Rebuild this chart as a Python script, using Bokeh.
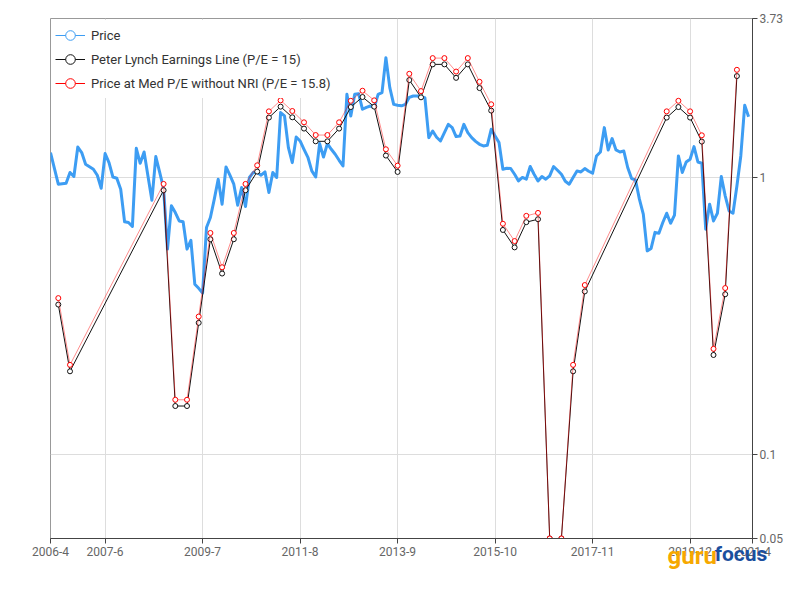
from bokeh.plotting import figure
from bokeh.models import Range1d, Legend, LegendItem, Label
from bokeh.embed import file_html
from bokeh.resources import INLINE

# ---------------- data ----------------
price_start = "2006-04"
price = [1.227, 1.077, 0.944, 0.948, 0.951, 1.040, 1.006, 1.285, 1.227, 1.114,
         1.091, 1.069, 1.017, 0.913, 1.217, 1.129, 1.002, 0.992, 0.905, 0.691,
         0.687, 0.665, 1.271, 1.123, 1.233, 1.008, 0.827, 1.187, 1.042, 0.911,
         0.551, 0.789, 0.746, 0.696, 0.691, 0.551, 0.593, 0.412, 0.398, 0.383,
         0.659, 0.716, 0.834, 0.984, 0.800, 1.089, 1.017, 0.944, 0.793, 0.918,
         0.785, 0.998, 1.042, 1.040, 1.017, 1.045, 0.881, 1.040, 0.998, 1.709,
         1.662, 1.279, 1.129, 1.396, 1.351, 1.261, 1.180, 1.054, 1.002, 1.322,
         1.183, 1.322, 1.261, 1.210, 1.151, 1.098, 1.989, 1.662, 1.989, 2.000,
         1.757, 1.786, 1.805, 1.781, 1.989, 2.017, 2.696, 2.102, 1.830, 1.816,
         1.808, 1.830, 1.940, 1.961, 1.961, 1.945, 1.935, 1.389, 1.467, 1.393,
         1.351, 1.448, 1.551, 1.509, 1.401, 1.408, 1.551, 1.448, 1.389, 1.347,
         1.314, 1.296, 1.303, 1.488, 1.408, 1.333, 1.069, 1.077, 1.075, 1.025,
         0.970, 0.998, 0.984, 1.093, 1.025, 0.970, 1.006, 0.984, 1.011, 1.093,
         1.060, 1.025, 0.967, 0.944, 0.998, 1.054, 1.045, 1.075, 1.051, 1.034,
         1.193, 1.233, 1.509, 1.254, 1.378, 1.254, 1.233, 1.243, 1.084, 0.989,
         0.978, 0.834, 0.736, 0.543, 0.554, 0.633, 0.629, 0.687, 0.742, 0.683,
         0.730, 1.193, 1.040, 1.135, 1.161, 1.289, 1.135, 1.123, 0.650, 0.800,
         0.696, 0.742, 1.006, 0.857, 0.756, 0.742, 0.930, 1.193, 1.816, 1.653]

lynch_dates = ["2006-06", "2006-09", "2008-09", "2008-12", "2009-03", "2009-06",
               "2009-09", "2009-12", "2010-03", "2010-06", "2010-09", "2010-12",
               "2011-03", "2011-06", "2011-09", "2011-12", "2012-03", "2012-06",
               "2012-09", "2012-12", "2013-03", "2013-06", "2013-09", "2013-12",
               "2014-03", "2014-06", "2014-09", "2014-12", "2015-03", "2015-06",
               "2015-09", "2015-12", "2016-03", "2016-06", "2016-09", "2016-12",
               "2017-03", "2017-06", "2017-09", "2019-06", "2019-09", "2019-12",
               "2020-03", "2020-06", "2020-09", "2020-12"]
lynch_line = [0.348, 0.200, 0.898, 0.150, 0.150, 0.299, 0.598, 0.450, 0.598, 0.898,
              1.048, 1.640, 1.796, 1.644, 1.497, 1.347, 1.347, 1.497, 1.790, 1.945,
              1.796, 1.197, 1.045, 2.239, 1.940, 2.550, 2.550, 2.280, 2.550, 2.095,
              1.738, 0.646, 0.559, 0.689, 0.706, 0.050, 0.050, 0.200, 0.388, 1.640,
              1.790, 1.640, 1.344, 0.229, 0.379, 2.314]
med_pe_price = [0.367, 0.211, 0.946, 0.158, 0.158, 0.315, 0.630, 0.474, 0.630, 0.946,
                1.104, 1.727, 1.892, 1.732, 1.577, 1.419, 1.419, 1.577, 1.885, 2.049,
                1.892, 1.261, 1.101, 2.358, 2.043, 2.686, 2.686, 2.402, 2.686, 2.207,
                1.831, 0.680, 0.589, 0.726, 0.744, 0.050, 0.050, 0.211, 0.409, 1.727,
                1.885, 1.727, 1.416, 0.241, 0.399, 2.437]

x_tick_labels = ["2006-4", "2007-6", "2009-7", "2011-8", "2013-9",
                 "2015-10", "2017-11", "2019-12", "2021-4"]
y_tick_values = [0.05, 0.1, 1, 3.73]
y_tick_labels = ["0.05", "0.1", "1", "3.73"]

legend_labels = ["Price", "Peter Lynch Earnings Line (P/E = 15)",
                 "Price at Med P/E without NRI (P/E = 15.8)"]


def month_index(s):
    y, m = s.split("-")
    y0, m0 = price_start.split("-")
    return (int(y) - int(y0)) * 12 + int(m) - int(m0)


price_x = list(range(len(price)))
lynch_x = [month_index(d) for d in lynch_dates]
x_ticks = [month_index(t) for t in x_tick_labels]

BLUE = "#3d9df3"
FONT = "Roboto"
LOGO_FONT = "'Liberation Sans Narrow', 'Roboto'"
NAN = float("nan")

p = figure(width=785, height=590, y_axis_type="log", y_axis_location="right",
           x_range=Range1d(x_ticks[0], x_ticks[-1]),
           y_range=Range1d(y_tick_values[0], y_tick_values[-1]),
           output_backend="svg", toolbar_location=None,
           min_border_left=50, min_border_right=30, min_border_top=18,
           min_border_bottom=52)

p.outline_line_color = "#999999"
p.outline_line_width = 1
p.background_fill_color = "white"
p.border_fill_color = "white"

# axes
p.xaxis.ticker = x_ticks
p.xaxis.major_label_overrides = {t: l for t, l in zip(x_ticks, x_tick_labels)}
p.yaxis.ticker = y_tick_values
p.yaxis.major_label_overrides = {t: l for t, l in zip(y_tick_values, y_tick_labels)}
for ax in (p.xaxis, p.yaxis):
    ax.axis_line_color = "#444444"
    ax.axis_line_width = 1
    ax.major_tick_line_color = "#444444"
    ax.major_tick_out = 5
    ax.major_tick_in = 0
    ax.minor_tick_line_color = None
    ax.major_label_text_color = "#666666"
    ax.major_label_text_font = FONT
    ax.major_label_text_font_size = "12px"
    ax.major_label_standoff = 3
p.yaxis.major_label_standoff = 2

p.xgrid.grid_line_color = "#dddddd"
p.ygrid.grid_line_color = "#dddddd"
p.xgrid.grid_line_width = 1
p.ygrid.grid_line_width = 1

# series
p.line(price_x, price, line_color=BLUE, line_width=3, line_join="round")

p.line(lynch_x, lynch_line, line_color="#111111", line_width=1)
p.scatter(lynch_x, lynch_line, marker="circle", size=5, line_color="#111111",
          fill_color="white", line_width=1)

p.line(lynch_x, med_pe_price, line_color="red", line_alpha=0.45, line_width=1)
p.scatter(lynch_x, med_pe_price, marker="circle", size=5, line_color="red",
          fill_color="white", line_width=1)

# legend glyphs (renderers holding a single NaN point, drawn only in the legend)
items = []
for lab, col in zip(legend_labels, [BLUE, "#111111", "red"]):
    lr = p.line([NAN], [NAN], line_color=col, line_width=1)
    cr = p.scatter([NAN], [NAN], marker="circle", line_color=col, fill_color="white",
                   line_width=1)
    items.append(LegendItem(label=lab, renderers=[lr, cr]))

legend = Legend(items=items, location="top_left", margin=2, padding=3,
                glyph_width=30, glyph_height=24, label_height=24, spacing=-2,
                label_standoff=6, label_text_font=FONT,
                label_text_font_size="13px", label_text_color="#333333",
                border_line_alpha=0, background_fill_color="white",
                background_fill_alpha=1)
p.add_layout(legend)

# watermark: two labels in side panels (not clipped to the frame)
guru = Label(x=666, y=-17, x_units="screen", y_units="screen", text="guru",
             text_align="left", text_baseline="alphabetic",
             text_font=LOGO_FONT, text_font_style="bold", text_font_size="24px",
             text_color="#f6a800")
p.add_layout(guru, "left")
focus = Label(x=664, y=29, x_units="screen", y_units="screen", text="focus",
              text_align="left", text_baseline="alphabetic",
              text_font=LOGO_FONT, text_font_style="bold", text_font_size="21px",
              text_color="#1b4f9e")
p.add_layout(focus, "below")

open("out.html", "w").write(file_html(p, INLINE))
